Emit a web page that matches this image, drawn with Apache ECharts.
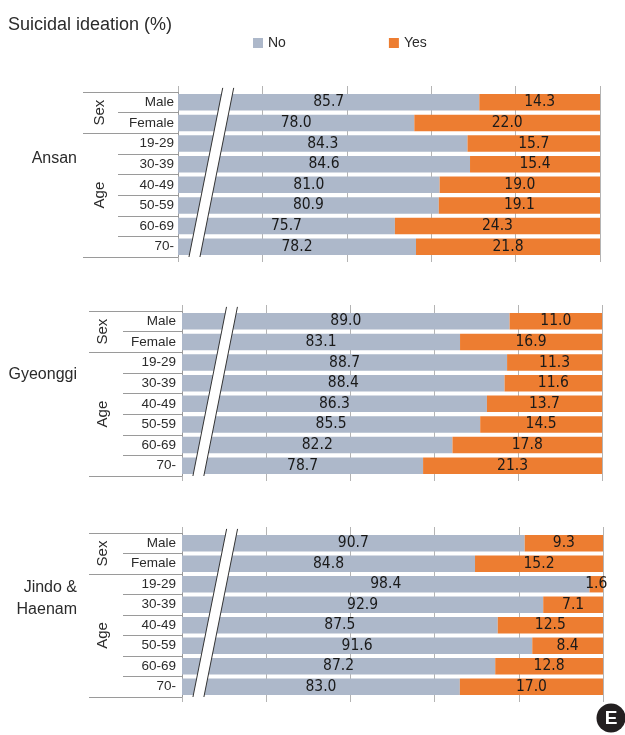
<!DOCTYPE html>
<html>
<head>
<meta charset="utf-8">
<title>Suicidal ideation (%)</title>
<script src="https://cdn.jsdelivr.net/npm/echarts@6.0.0/dist/echarts.min.js"></script>
<style>
    html, body { margin: 0; padding: 0; background: #fff; }
    #chart { width: 625px; height: 735px; }
</style>
</head>
<body>
<div id="chart"></div>
<script>
// ================================
// data
// ================================
const categories = ['Male', 'Female', '19-29', '30-39', '40-49', '50-59', '60-69', '70-'];
const groupLabels = ['Sex', 'Age'];
const groupBounds = [0, 2, 8];    // row boundaries of the Sex / Age blocks
const groupCenters = [1, 5];
const regions = ['Ansan', 'Gyeonggi', 'Jindo &\nHaenam'];
const seriesNames = ['No', 'Yes'];
const axisMin = 50, axisMax = 100, axisStep = 10;

const ansanNo = [85.7, 78.0, 84.3, 84.6, 81.0, 80.9, 75.7, 78.2];
const ansanYes = [14.3, 22.0, 15.7, 15.4, 19.0, 19.1, 24.3, 21.8];
const gyeonggiNo = [89.0, 83.1, 88.7, 88.4, 86.3, 85.5, 82.2, 78.7];
const gyeonggiYes = [11.0, 16.9, 11.3, 11.6, 13.7, 14.5, 17.8, 21.3];
const jindoNo = [90.7, 84.8, 98.4, 92.9, 87.5, 91.6, 87.2, 83.0];
const jindoYes = [9.3, 15.2, 1.6, 7.1, 12.5, 8.4, 12.8, 17.0];

// ================================
// styles
// ================================
const NO_COLOR = '#adb8ca';
const YES_COLOR = '#ed7d31';
const GRID_COLOR = '#b4b4b4';
const TABLE_COLOR = '#9a9a9a';
const TEXT_COLOR = '#2b2b2b';
const SANS = "'Liberation Sans', Arial, sans-serif";
const VALUE_FONT = "'DejaVu Sans Condensed', 'DejaVu Sans', sans-serif";

const panels = [
    { name: regions[0], no: ansanNo, yes: ansanYes, left: 178, top: 92, width: 422, height: 165, catMargin: 4, tick: 60, groupTick: 95, groupMargin: 71, labelY: 159 },
    { name: regions[1], no: gyeonggiNo, yes: gyeonggiYes, left: 182, top: 311, width: 420, height: 165, catMargin: 6, tick: 59, groupTick: 93, groupMargin: 72, labelY: 375 },
    { name: regions[2], no: jindoNo, yes: jindoYes, left: 182, top: 533, width: 421, height: 164, catMargin: 6, tick: 59, groupTick: 93, groupMargin: 72, labelY: 599 },
];

// ================================
// build option
// ================================
const grid = [], xAxis = [], yAxis = [], series = [];

panels.forEach((p, i) => {
    grid.push({ left: p.left, top: p.top, width: p.width, height: p.height });

    // main value axis (top ticks + gridlines)
    xAxis.push({
        gridIndex: i, type: 'value', position: 'top',
        min: axisMin, max: axisMax, interval: axisStep,
        axisLine: { show: false },
        axisTick: { show: true, length: 6, lineStyle: { color: GRID_COLOR } },
        axisLabel: { show: false },
        splitLine: { show: true, lineStyle: { color: GRID_COLOR } },
    });
    // bottom tick extension
    xAxis.push({
        gridIndex: i, type: 'value', position: 'bottom',
        min: axisMin, max: axisMax, interval: axisStep,
        axisLine: { show: false },
        axisTick: { show: true, length: 5, lineStyle: { color: GRID_COLOR } },
        axisLabel: { show: false },
        splitLine: { show: false },
    });

    yAxis.push({
        gridIndex: i, type: 'category', data: categories, inverse: true,
        axisLine: { show: true, lineStyle: { color: TABLE_COLOR } },
        axisTick: { show: true, length: p.tick, lineStyle: { color: TABLE_COLOR } },
        axisLabel: { margin: p.catMargin, fontSize: 13.5, fontFamily: SANS, color: TEXT_COLOR },
    });
    // group column: Sex / Age
    yAxis.push({
        gridIndex: i, type: 'value', position: 'left', inverse: true,
        min: 0, max: categories.length,
        axisLine: { show: false },
        axisTick: { show: true, customValues: groupBounds, length: p.groupTick, lineStyle: { color: TABLE_COLOR } },
        axisLabel: {
            customValues: groupCenters,
            formatter: v => groupLabels[groupCenters.indexOf(v)],
            rotate: 90, margin: p.groupMargin,
            fontSize: 15, fontFamily: SANS, color: TEXT_COLOR,
        },
        splitLine: { show: false },
    });

    [p.no, p.yes].forEach((vals, k) => {
        series.push({
            type: 'bar', name: seriesNames[k], stack: 'panel' + i,
            xAxisIndex: 2 * i, yAxisIndex: 2 * i,
            data: vals,
            barCategoryGap: '20%',
            itemStyle: { color: k === 0 ? NO_COLOR : YES_COLOR },
            label: {
                show: true, position: 'inside',
                formatter: d => d.value.toFixed(1),
                color: '#1a1a1a', fontSize: 15.5, fontFamily: VALUE_FONT,
            },
            emphasis: { disabled: true },
        });
    });
});

const chart = echarts.init(document.getElementById('chart'));
chart.setOption({
    animation: false,
    backgroundColor: '#fff',
    title: {
        text: 'Suicidal ideation (%)', left: 3, top: 11,
        textStyle: { fontSize: 18, fontWeight: 'normal', fontFamily: SANS, color: TEXT_COLOR },
    },
    legend: {
        data: seriesNames, left: 248, top: 31,
        itemWidth: 10, itemHeight: 10, itemGap: 103, icon: 'rect',
        textStyle: { fontSize: 14, fontFamily: SANS, color: TEXT_COLOR },
    },
    grid, xAxis, yAxis, series,
});

// ---- region labels, axis breaks, logo ----
const graphics = [];
panels.forEach((p, i) => {
    graphics.push({
        type: 'text',
        style: {
            text: p.name, x: 77, y: p.labelY, align: 'right', verticalAlign: 'middle',
            font: `16px ${SANS}`, fill: TEXT_COLOR, lineHeight: 22,
        },
    });
    const finder = { xAxisIndex: 2 * i, yAxisIndex: 2 * i + 1 };
    const px = pt => chart.convertToPixel(finder, pt);
    const tl = px([55.3, -0.2]), tr = px([56.6, -0.2]);
    const bl = px([51.3, 8.0]), br = px([52.6, 8.0]);
    graphics.push({
        type: 'polygon', z: 100,
        shape: { points: [tl, tr, br, bl] },
        style: { fill: '#fff', stroke: null },
    });
    graphics.push({ type: 'line', z: 101, shape: { x1: tl[0], y1: tl[1], x2: bl[0], y2: bl[1] }, style: { stroke: '#333', lineWidth: 1 } });
    graphics.push({ type: 'line', z: 101, shape: { x1: tr[0], y1: tr[1], x2: br[0], y2: br[1] }, style: { stroke: '#333', lineWidth: 1 } });
});
graphics.push({ type: 'circle', shape: { cx: 611, cy: 718, r: 14.5 }, style: { fill: '#231f20' } });
graphics.push({
    type: 'text',
    style: { text: 'E', x: 611, y: 719, align: 'center', verticalAlign: 'middle', font: `bold 19px ${SANS}`, fill: '#fff' },
});
chart.setOption({ graphic: graphics });
</script>
</body>
</html>
